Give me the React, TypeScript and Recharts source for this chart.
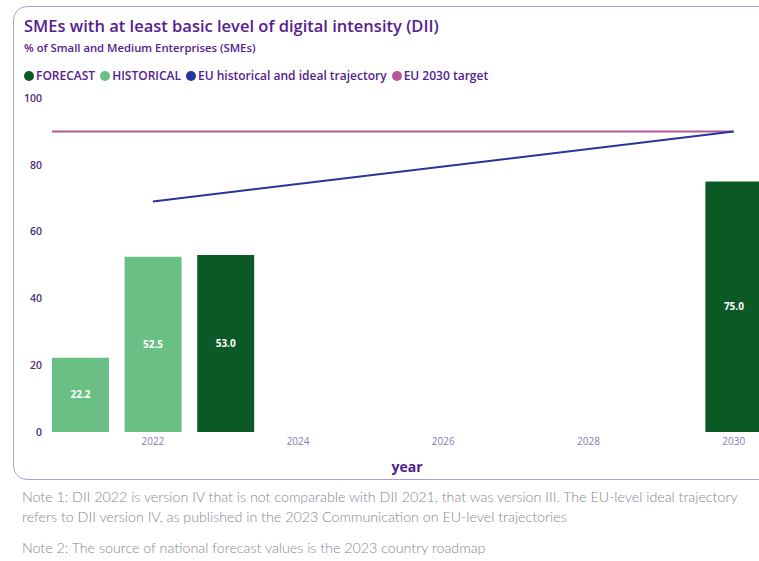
import React from 'react';
import { ComposedChart, Bar, Line, XAxis, YAxis, Cell, LabelList, ReferenceLine } from 'recharts';

const years = [2021, 2022, 2023, 2024, 2025, 2026, 2027, 2028, 2029, 2030];
const historical = [22.2, 52.5, null, null, null, null, null, null, null, null];
const forecast = [null, null, 53.0, null, null, null, null, null, null, 75.0];
const euTrajectory = [null, 69, null, null, null, null, null, null, null, 90];
const targetValue = 90;
const targetYears = [2020.61, 2030];
const xTicks = [2022, 2024, 2026, 2028, 2030];
const yTicks = [0, 20, 40, 60, 80, 100];

const FORECAST = '#0b5a25';
const HISTORICAL = '#6ac084';
const EU_LINE = '#27359a';
const TARGET = '#b4589a';
const PURPLE = '#55208f';

const data = years.map((year, i) => {
  const h = historical[i];
  const f = forecast[i];
  return {
    year,
    value: h ?? f,
    kind: h != null ? 'historical' : f != null ? 'forecast' : null,
    eu: euTrajectory[i],
  };
});

const legendItems = [
  { label: 'FORECAST', color: FORECAST },
  { label: 'HISTORICAL', color: HISTORICAL },
  { label: 'EU historical and ideal trajectory', color: EU_LINE },
  { label: 'EU 2030 target', color: TARGET },
];

const font = '"Open Sans", "Noto Sans", sans-serif';
const noteStyle: React.CSSProperties = {
  position: 'absolute',
  left: 22,
  fontSize: 14.25,
  fontWeight: 300,
  color: '#8a8392',
  lineHeight: '20px',
  whiteSpace: 'nowrap',
  fontFamily: '"Lato", sans-serif',
};

const App: React.FC = () => {
  return (
    <div style={{ position: 'absolute', left: 0, top: 0, width: 759, height: 561, overflow: 'hidden', background: '#fff', fontFamily: font }}>
      <div
        style={{
          position: 'absolute',
          left: 13,
          top: 6,
          width: 800,
          height: 472,
          border: '1.5px solid #b09be0',
          borderRadius: 14,
        }}
      />
      <div style={{ position: 'absolute', left: 24, top: 14, fontSize: 16.5, fontWeight: 600, color: PURPLE, whiteSpace: 'nowrap' }}>
        SMEs with at least basic level of digital intensity (DII)
      </div>
      <div style={{ position: 'absolute', left: 24, top: 40, fontSize: 11.3, fontWeight: 600, color: PURPLE, whiteSpace: 'nowrap' }}>
        % of Small and Medium Enterprises (SMEs)
      </div>
      <div style={{ position: 'absolute', left: 24, top: 67, display: 'flex', fontSize: 12, fontWeight: 600, color: PURPLE, whiteSpace: 'nowrap' }}>
        {legendItems.map((item) => (
          <span key={item.label} style={{ display: 'flex', alignItems: 'center', marginRight: 5 }}>
            <span style={{ width: 10, height: 10, borderRadius: '50%', background: item.color, marginRight: 2, display: 'inline-block' }} />
            {item.label}
          </span>
        ))}
      </div>
      <div style={{ position: 'absolute', left: 0, top: 0 }}>
        <ComposedChart width={800} height={480} data={data} margin={{ top: 98, right: 30, left: 0, bottom: 0 }}>
          <XAxis
            dataKey="year"
            type="number"
            domain={[2020.5, 2030.5]}
            ticks={xTicks}
            axisLine={false}
            tickLine={false}
            tickSize={0}
            tickMargin={6}
            height={48}
            tick={{ fill: '#8c78b8', fontSize: 10, fontFamily: font }}
            label={{ value: 'year', position: 'insideBottom', offset: 8, fill: '#4d1d8a', fontSize: 14, fontWeight: 700, fontFamily: font }}
          />
          <YAxis
            domain={[0, 100]}
            ticks={yTicks}
            axisLine={false}
            tickLine={false}
            tickSize={0}
            tickMargin={2}
            width={44}
            tick={{ fill: '#4d2a80', fontSize: 10.5, fontWeight: 600, fontFamily: font }}
          />
          <ReferenceLine
            segment={[
              { x: targetYears[0], y: targetValue },
              { x: targetYears[1], y: targetValue },
            ]}
            stroke={TARGET}
            strokeWidth={2}
          />
          <Bar dataKey="value" barSize={57} isAnimationActive={false}>
            {data.map((d) => (
              <Cell key={d.year} fill={d.kind === 'forecast' ? FORECAST : HISTORICAL} />
            ))}
            <LabelList
              dataKey="value"
              position="center"
              fill="#fff"
              fontSize={10}
              fontWeight={700}
              fontFamily={font}
              formatter={(v: any) => (v == null ? '' : Number(v).toFixed(1))}
            />
          </Bar>
          <Line dataKey="eu" stroke={EU_LINE} strokeWidth={2} dot={false} connectNulls isAnimationActive={false} />
        </ComposedChart>
      </div>
      <div style={{ ...noteStyle, top: 487 }}>
        Note 1: DII 2022 is version IV that is not comparable with DII 2021, that was version III. The EU-level ideal trajectory
        <br />
        refers to DII version IV, as published in the 2023 Communication on EU-level trajectories
      </div>
      <div style={{ ...noteStyle, top: 538 }}>
        Note 2: The source of national forecast values is the 2023 country roadmap
      </div>
    </div>
  );
};

export default App;
